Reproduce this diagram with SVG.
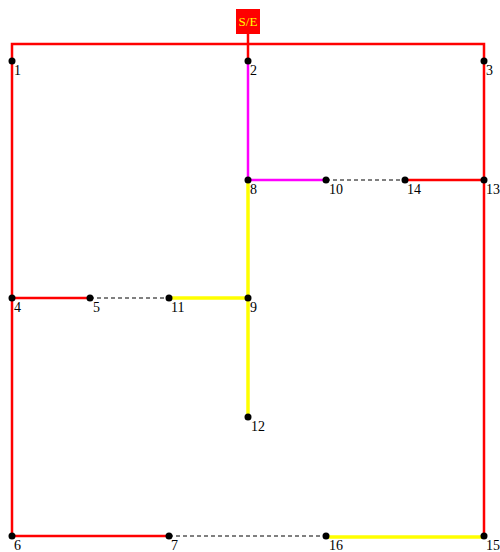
<svg xmlns="http://www.w3.org/2000/svg" width="500" height="552" viewBox="0 0 500 552">
<style>
.r{stroke:#ff0000;stroke-width:2.5;fill:none}
.m{stroke:#ff00ff;stroke-width:2.5;fill:none}
.y{stroke:#ffff00;stroke-width:3.5;fill:none}
.d{stroke:#000;stroke-width:1;stroke-dasharray:4,3;fill:none}
.dot{fill:#000}
.lbl{font-family:"Liberation Serif",serif;font-size:14px;fill:#000}
</style>
<rect width="500" height="552" fill="#fff"/>
<g id="connectors">
<polyline class="r" points="12,536 12,44 484,44 484,536"/>
<line class="r" x1="248" y1="33" x2="248" y2="61"/>
<line class="m" x1="248" y1="61" x2="248" y2="180"/>
<line class="m" x1="248" y1="180" x2="326" y2="180"/>
<line class="d" x1="326" y1="180" x2="405" y2="180"/>
<line class="r" x1="405" y1="180" x2="484" y2="180"/>
<line class="y" x1="248" y1="180" x2="248" y2="298"/>
<line class="y" x1="248" y1="298" x2="248" y2="417"/>
<line class="y" x1="169" y1="298" x2="248" y2="298"/>
<line class="r" x1="12" y1="298" x2="90" y2="298"/>
<line class="d" x1="90" y1="298" x2="169" y2="298"/>
<line class="r" x1="12" y1="536" x2="169" y2="536"/>
<line class="d" x1="169" y1="536" x2="326" y2="536"/>
<line class="y" x1="326" y1="537" x2="484" y2="537"/>
</g>
<g id="se">
<rect x="236" y="9" width="24" height="25" fill="#ff0000"/>
<text x="248" y="26" text-anchor="middle" font-family="Liberation Serif,serif" font-size="13" fill="#ffff00">S/E</text>
</g>
<g id="n1"><circle class="dot" cx="12" cy="61" r="3.5"/><text class="lbl" x="14" y="75">1</text></g>
<g id="n2"><circle class="dot" cx="248" cy="61" r="3.5"/><text class="lbl" x="250" y="75">2</text></g>
<g id="n3"><circle class="dot" cx="484" cy="61" r="3.5"/><text class="lbl" x="486" y="75">3</text></g>
<g id="n8"><circle class="dot" cx="248" cy="180" r="3.5"/><text class="lbl" x="250" y="194">8</text></g>
<g id="n10"><circle class="dot" cx="326" cy="180" r="3.5"/><text class="lbl" x="329" y="194">10</text></g>
<g id="n14"><circle class="dot" cx="405" cy="180" r="3.5"/><text class="lbl" x="407" y="194">14</text></g>
<g id="n13"><circle class="dot" cx="484" cy="180" r="3.5"/><text class="lbl" x="486" y="194">13</text></g>
<g id="n4"><circle class="dot" cx="12" cy="298" r="3.5"/><text class="lbl" x="14" y="312">4</text></g>
<g id="n5"><circle class="dot" cx="90" cy="298" r="3.5"/><text class="lbl" x="93" y="312">5</text></g>
<g id="n11"><circle class="dot" cx="169" cy="298" r="3.5"/><text class="lbl" x="171" y="312">11</text></g>
<g id="n9"><circle class="dot" cx="248" cy="298" r="3.5"/><text class="lbl" x="250" y="312">9</text></g>
<g id="n12"><circle class="dot" cx="248" cy="417" r="3.5"/><text class="lbl" x="251" y="431">12</text></g>
<g id="n6"><circle class="dot" cx="12" cy="536" r="3.5"/><text class="lbl" x="14" y="550">6</text></g>
<g id="n7"><circle class="dot" cx="169" cy="536" r="3.5"/><text class="lbl" x="171" y="550">7</text></g>
<g id="n16"><circle class="dot" cx="326" cy="536" r="3.5"/><text class="lbl" x="329" y="550">16</text></g>
<g id="n15"><circle class="dot" cx="484" cy="536" r="3.5"/><text class="lbl" x="486" y="550">15</text></g>
</svg>
